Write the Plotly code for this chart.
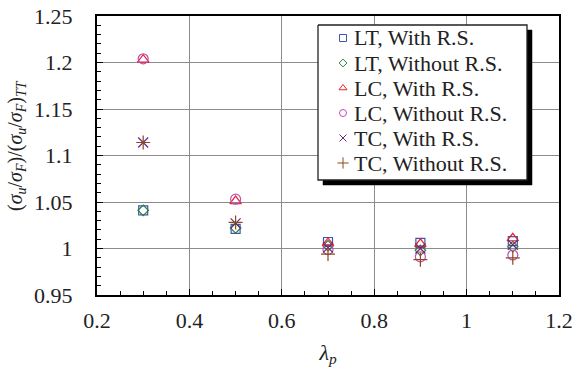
import plotly.graph_objects as go

lam = [0.3, 0.5, 0.7, 0.9, 1.1]
lt_with = [1.041, 1.021, 1.007, 1.006, 1.008]
lt_without = [1.041, 1.022, 1.003, 0.998, 1.002]
lc_with = [1.203, 1.051, 1.006, 1.005, 1.011]
lc_without = [1.204, 1.053, 0.999, 0.991, 0.993]
tc_with = [1.114, 1.027, 1.001, 1.000, 1.004]
tc_without = [1.114, 1.028, 0.994, 0.988, 0.990]

names = ["LT, With R.S.", "LT, Without R.S.", "LC, With R.S.", "LC, Without R.S.",
         "TC, With R.S.", "TC, Without R.S."]
series = [lt_with, lt_without, lc_with, lc_without, tc_with, tc_without]
symbols = ["square-open", "diamond-open", "triangle-up-open", "circle-open", "x-thin-open", "cross-thin-open"]
colors = ["#3d55b5", "#2e7d3a", "#e8202a", "#c04fb8", "#6a2a7a", "#8b4a1c"]
sizes = [9, 8, 10, 10, 10, 10]

xticks = [0.2, 0.4, 0.6, 0.8, 1.0, 1.2]
xticktext = ["0.2", "0.4", "0.6", "0.8", "1", "1.2"]
yticks = [0.95, 1.0, 1.05, 1.1, 1.15, 1.2, 1.25]
yticktext = ["0.95", "1", "1.05", "1.1", "1.15", "1.2", "1.25"]
ytitle = "(<i>σ<sub>u</sub></i>/<i>σ<sub>F</sub></i>)/(<i>σ<sub>u</sub></i>/<i>σ<sub>F</sub></i>)<sub><i>TT</i></sub>"
xtitle = "<i>λ<sub>p</sub></i>"

L, R, T, B = 97, 17, 16, 79
W, H = 576, 374
pw, ph = W - L - R, H - T - B

def px2paper(x, y):
    return (x - L) / pw, 1 - (y - T) / ph

def rect_path(xl, yt, xr, yb):
    p = [px2paper(xl, yt), px2paper(xr, yt), px2paper(xr, yb), px2paper(xl, yb), px2paper(xl, yt)]
    return [q[0] for q in p], [q[1] for q in p]

font = "Times New Roman"
fs = 22

fig = go.Figure()
for nm, ys, sym, col, sz in zip(names, series, symbols, colors, sizes):
    fig.add_trace(go.Scatter(x=lam, y=ys, mode="markers", name=nm, showlegend=False,
                             marker=dict(symbol=sym, size=sz, color=col,
                                         line=dict(color=col, width=1.2))))

# custom legend box (layout pixels), drawn on an overlay axis in paper units
box_l, box_t, box_r, box_b = 318, 25, 527, 180
row0, row_gap = 38, 25
key_x, text_x = 343, 352
sh = 5

sxs, sys_ = rect_path(box_l + sh, box_t + sh, box_r + sh, box_b + sh)
fig.add_trace(go.Scatter(x=sxs, y=sys_, xaxis="x2", yaxis="y2", mode="lines", fill="toself",
                         fillcolor="black", line=dict(color="black", width=0.5),
                         showlegend=False, hoverinfo="skip"))
bxs, bys = rect_path(box_l, box_t, box_r, box_b)
fig.add_trace(go.Scatter(x=bxs, y=bys, xaxis="x2", yaxis="y2", mode="lines", fill="toself",
                         fillcolor="white", line=dict(color="#222", width=1.3),
                         showlegend=False, hoverinfo="skip"))

key_sizes = [7, 6, 7, 7, 7, 8]
for i, (nm, sym, col, ks) in enumerate(zip(names, symbols, colors, key_sizes)):
    kx, ky = px2paper(key_x, row0 + i * row_gap)
    tx, _ = px2paper(text_x, row0 + i * row_gap)
    fig.add_trace(go.Scatter(x=[kx], y=[ky], xaxis="x2", yaxis="y2", mode="markers",
                             showlegend=False, hoverinfo="skip",
                             marker=dict(symbol=sym, size=ks, color=col, line=dict(color=col, width=1))))
    fig.add_annotation(x=tx, y=ky, xref="paper", yref="paper", text=nm, showarrow=False,
                       xanchor="left", yanchor="middle",
                       font=dict(family=font, size=fs, color="#222"))

# y-axis title as annotation
tx_, ty_ = px2paper(16, 146)
fig.add_annotation(x=tx_, y=ty_, xref="paper", yref="paper", text=ytitle, showarrow=False,
                   textangle=-90, xanchor="center", yanchor="middle",
                   font=dict(family=font, size=20, color="#222"))

fig.update_layout(
    template="none",
    width=W, height=H, autosize=False,
    margin=dict(l=L, r=R, t=T, b=B, autoexpand=False),
    paper_bgcolor="white", plot_bgcolor="white",
    font=dict(family=font, size=fs, color="#222"),
    showlegend=False,
    xaxis=dict(range=[0.2, 1.2], tickvals=xticks, ticktext=xticktext, automargin=False,
               showgrid=True, gridcolor="#8c8c8c", gridwidth=1,
               showline=True, linecolor="black", linewidth=2, mirror=True,
               ticks="inside", ticklen=6, tickcolor="black", zeroline=False,
               ticklabelstandoff=5,
               minor=dict(dtick=0.05, tick0=0.2, ticks="inside", ticklen=4, tickcolor="black", showgrid=False),
               title=dict(text=xtitle, font=dict(family=font, size=fs), standoff=12),
               tickfont=dict(family=font, size=fs)),
    yaxis=dict(range=[0.95, 1.25], tickvals=yticks, ticktext=yticktext, automargin=False,
               showgrid=True, gridcolor="#8c8c8c", gridwidth=1,
               showline=True, linecolor="black", linewidth=2, mirror=True,
               ticks="inside", ticklen=6, tickcolor="black", zeroline=False,
               ticklabelstandoff=18,
               minor=dict(dtick=0.01, tick0=0.95, ticks="inside", ticklen=4, tickcolor="black", showgrid=False),
               tickfont=dict(family=font, size=fs)),
    xaxis2=dict(overlaying="x", range=[0, 1], visible=False, fixedrange=True),
    yaxis2=dict(overlaying="y", range=[0, 1], visible=False, fixedrange=True),
)

fig.write_html("out.html")
